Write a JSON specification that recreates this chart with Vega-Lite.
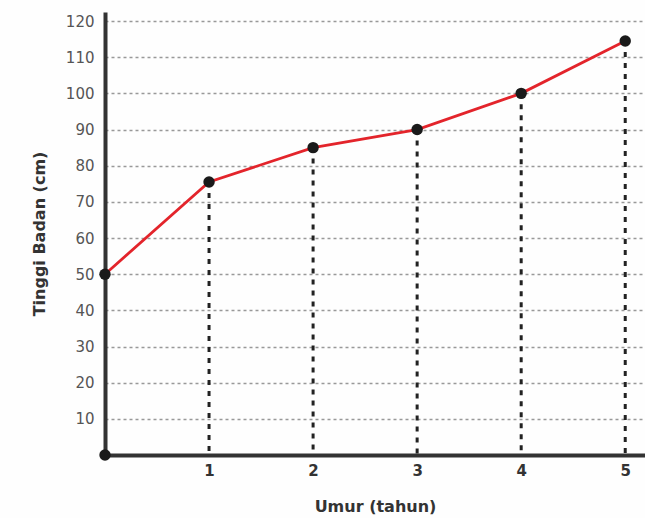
{
  "$schema": "https://vega.github.io/schema/vega-lite/v6.json",
  "width": 540,
  "height": 443,
  "autosize": {"type": "none"},
  "padding": {"left": 105, "top": 12, "right": 0, "bottom": 63},
  "background": "#fefefe",
  "config": {
    "view": {"stroke": null},
    "font": "DejaVu Sans"
  },
  "datasets": {
    "pts": [
      {"umur": 0, "tinggi": 50},
      {"umur": 1, "tinggi": 75.5},
      {"umur": 2, "tinggi": 85},
      {"umur": 3, "tinggi": 90},
      {"umur": 4, "tinggi": 100},
      {"umur": 5, "tinggi": 114.5}
    ],
    "origin": [{"umur": 0, "tinggi": 0}]
  },
  "layer": [
    {
      "data": {"name": "pts"},
      "transform": [{"filter": "datum.umur > 0"}],
      "mark": {"type": "rule", "color": "#222", "strokeWidth": 3, "strokeDash": [5, 6]},
      "encoding": {
        "x": {
          "field": "umur", "type": "quantitative",
          "scale": {"domain": [0, 5.19], "nice": false, "zero": false},
          "axis": {
            "values": [1, 2, 3, 4, 5],
            "format": "d",
            "title": "Umur (tahun)",
            "titleFont": "DejaVu Sans", "titleFontSize": 16, "titleFontWeight": "bold", "titleColor": "#333",
            "titlePadding": 20,
            "labelFont": "DejaVu Sans", "labelFontSize": 15, "labelFontWeight": "bold", "labelColor": "#333",
            "labelPadding": 8,
            "domainColor": "#333", "domainWidth": 4,
            "ticks": false, "grid": false
          }
        },
        "y": {
          "field": "tinggi", "type": "quantitative",
          "scale": {"domain": [0, 122.5], "nice": false},
          "axis": {
            "values": [10, 20, 30, 40, 50, 60, 70, 80, 90, 100, 110, 120],
            "format": "d",
            "title": "Tinggi Badan (cm)",
            "titleFont": "DejaVu Sans", "titleFontSize": 16, "titleFontWeight": "bold", "titleColor": "#333",
            "titlePadding": 18,
            "labelFont": "DejaVu Sans", "labelFontSize": 15, "labelColor": "#555",
            "labelPadding": 11,
            "domainColor": "#333", "domainWidth": 4,
            "ticks": false,
            "grid": true, "gridColor": "#999", "gridWidth": 1.5, "gridDash": [3, 3]
          }
        },
        "y2": {"datum": 0}
      }
    },
    {
      "data": {"name": "pts"},
      "mark": {"type": "line", "color": "#e3242b", "strokeWidth": 2.8},
      "encoding": {
        "x": {"field": "umur", "type": "quantitative"},
        "y": {"field": "tinggi", "type": "quantitative"}
      }
    },
    {
      "data": {"name": "pts"},
      "mark": {"type": "circle", "color": "#1a1a1a", "opacity": 1, "size": 130},
      "encoding": {
        "x": {"field": "umur", "type": "quantitative"},
        "y": {"field": "tinggi", "type": "quantitative"}
      }
    },
    {
      "data": {"name": "origin"},
      "mark": {"type": "circle", "color": "#1a1a1a", "opacity": 1, "size": 130},
      "encoding": {
        "x": {"field": "umur", "type": "quantitative"},
        "y": {"field": "tinggi", "type": "quantitative"}
      }
    }
  ]
}
